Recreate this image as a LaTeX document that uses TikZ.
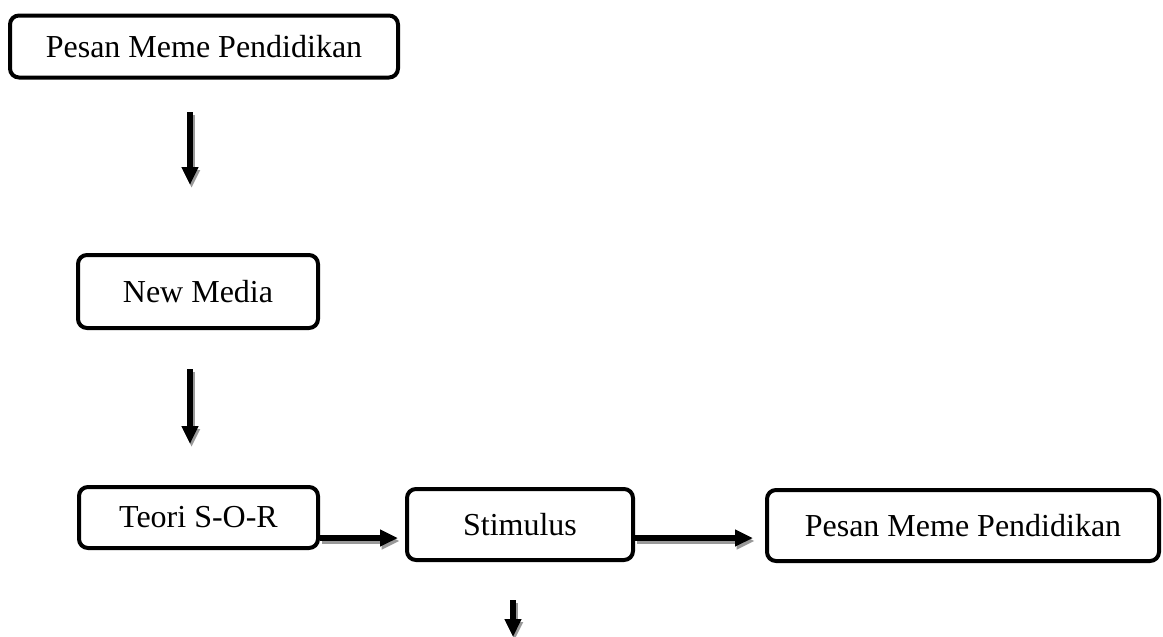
\documentclass[tikz,border=0pt]{standalone}
\usepackage{fontspec}
\setmainfont{Liberation Serif}
\usetikzlibrary{arrows.meta}
\begin{document}
\begin{tikzpicture}[x=0.5pt,y=-0.5pt,
  box/.style={draw=black, line width=2pt, rounded corners=4.5pt, inner sep=0pt,
    font=\fontsize{16}{19}\selectfont, align=center},
  flow/.style={line width=2.9pt, -{Triangle[length=9pt,width=8pt]}},
  flowshadow/.style={line width=2.9pt, draw=black!40, -{Triangle[length=9pt,width=8pt]}},
]
\useasboundingbox (0,0) rectangle (1163,637);
% boxes
\node[box, minimum width=194pt, minimum height=31pt] (b1) at (204,46.5) {Pesan Meme Pendidikan};
\node[box, minimum width=120pt, minimum height=36.5pt] (b2) at (198,291.5) {New Media};
\node[box, minimum width=119.5pt, minimum height=30.5pt] (b3) at (198.5,517.5) {Teori S-O-R};
\node[box, minimum width=113pt, minimum height=35.5pt] (b4) at (520,524.5) {Stimulus};
\node[box, minimum width=196pt, minimum height=35.5pt] (b5) at (963,525.5) {Pesan Meme Pendidikan};
% arrow end points
\coordinate (a1s) at (190,112);
\coordinate (a1e) at (190,185);
\coordinate (a2s) at (190,369);
\coordinate (a2e) at (190,444);
\coordinate (a3s) at (b3.east |- 0,538);
\coordinate (a3e) at (398,538);
\coordinate (a4s) at (b4.east |- 0,538);
\coordinate (a4e) at (753,538);
\coordinate (a5s) at (513,600);
\coordinate (a5e) at (513,637);
% shadows
\foreach \s/\e in {a1s/a1e,a2s/a2e,a3s/a3e,a4s/a4e,a5s/a5e}
  \draw[flowshadow, transform canvas={shift={(0.8pt,-1.5pt)}}] (\s) -- (\e);
% arrows
\foreach \s/\e in {a1s/a1e,a2s/a2e,a3s/a3e,a4s/a4e,a5s/a5e}
  \draw[flow] (\s) -- (\e);
\end{tikzpicture}
\end{document}
